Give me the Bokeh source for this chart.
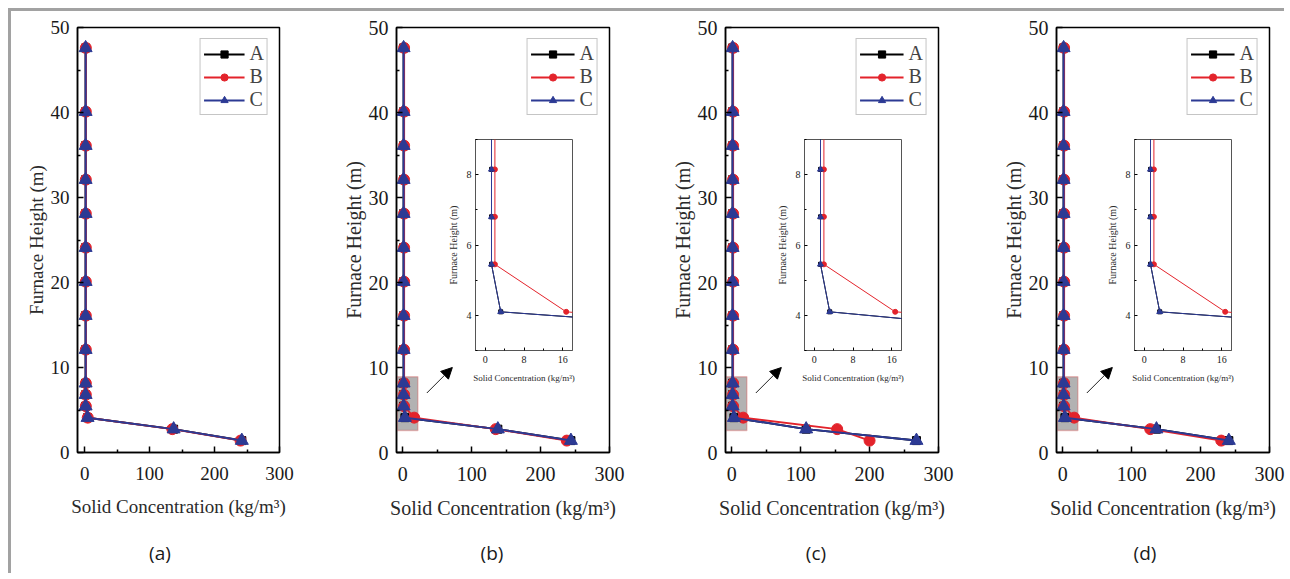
from bokeh.plotting import figure
from bokeh.models import Column, Div, Legend, LegendItem, Arrow, NormalHead, BoxAnnotation, Range1d, FixedTicker
from bokeh.embed import file_html
from bokeh.resources import INLINE

# ---------------- data ----------------
height_m = [47.6, 40.1, 36.1, 32.1, 28.1, 24.1, 20.1, 16.1, 12.1, 8.15, 6.8, 5.45, 4.1, 2.75, 1.4]

a_A = [1.5, 1.5, 1.5, 1.5, 1.5, 1.5, 1.5, 1.5, 1.5, 1.5, 1.5, 1.5, 4.5, 137.0, 242.0]
a_B = [1.8, 1.8, 1.8, 1.8, 1.8, 1.8, 1.8, 1.8, 1.8, 1.8, 1.8, 1.8, 4.8, 135.0, 240.0]
a_C = [1.5, 1.5, 1.5, 1.5, 1.5, 1.5, 1.5, 1.5, 1.5, 1.5, 1.5, 1.5, 4.5, 137.0, 242.0]

b_A = [1.3, 1.3, 1.3, 1.3, 1.3, 1.3, 1.3, 1.3, 1.3, 1.3, 1.3, 1.3, 3.2, 138.0, 244.0]
b_B = [2.0, 2.0, 2.0, 2.0, 2.0, 2.0, 2.0, 2.0, 2.0, 2.0, 2.0, 2.0, 16.7, 135.0, 238.0]
b_C = [1.3, 1.3, 1.3, 1.3, 1.3, 1.3, 1.3, 1.3, 1.3, 1.3, 1.3, 1.3, 3.2, 138.0, 244.0]

c_A = [1.3, 1.3, 1.3, 1.3, 1.3, 1.3, 1.3, 1.3, 1.3, 1.3, 1.3, 1.3, 3.2, 108.0, 268.0]
c_B = [2.0, 2.0, 2.0, 2.0, 2.0, 2.0, 2.0, 2.0, 2.0, 2.0, 2.0, 2.0, 16.7, 153.0, 200.0]
c_C = [1.3, 1.3, 1.3, 1.3, 1.3, 1.3, 1.3, 1.3, 1.3, 1.3, 1.3, 1.3, 3.2, 108.0, 268.0]

d_A = [1.3, 1.3, 1.3, 1.3, 1.3, 1.3, 1.3, 1.3, 1.3, 1.3, 1.3, 1.3, 3.2, 136.0, 241.0]
d_B = [2.0, 2.0, 2.0, 2.0, 2.0, 2.0, 2.0, 2.0, 2.0, 2.0, 2.0, 2.0, 16.7, 127.0, 230.0]
d_C = [1.3, 1.3, 1.3, 1.3, 1.3, 1.3, 1.3, 1.3, 1.3, 1.3, 1.3, 1.3, 3.2, 136.0, 241.0]

series_names = ["A", "B", "C"]
panel_labels = ["(a)", "(b)", "(c)", "(d)"]

main_x_ticks = [0, 100, 200, 300]
main_y_ticks = [0, 10, 20, 30, 40, 50]
inset_x_ticks = [0, 8, 16]
inset_y_ticks = [4, 6, 8]

# zoomed region (main-plot units) and inset ranges
zoom_x = [-8, 22]
zoom_y = [2.6, 8.9]
inset_x_range = [-2, 18]
inset_y_range = [3, 9]

# ---------------- styling ----------------
SERIF = "Liberation Serif"
COL = {"A": "#000000", "B": "#e3232b", "C": "#2c3a94"}
MARK = {"A": "square", "B": "circle", "C": "triangle"}
MSIZE = {"A": 8, "B": 11, "C": 13}
ISIZE = {"A": 4, "B": 5, "C": 6}

ROOT_X, ROOT_Y = 11, 11   # page coords of root content origin
BL, BR = 80, 16                      # shared left/right borders (column aligns them)
MT, MB = 20, 75                      # main top/bottom borders
IT, IB = 3, 44                       # inset top/bottom borders


def place(p, left_page, top_page, mt):
    p.styles = {"position": "absolute",
                "left": f"{left_page - BL - ROOT_X}px",
                "top": f"{top_page - mt - ROOT_Y}px"}


def style_axes(p, font_px, label_px, tick_in, minor_in, lw):
    for ax in (p.xaxis[0], p.yaxis[0]):
        ax.major_tick_in = tick_in
        ax.major_tick_out = 0
        ax.minor_tick_in = minor_in
        ax.minor_tick_out = 0
        ax.axis_line_width = lw
        ax.major_tick_line_width = lw
        ax.minor_tick_line_width = lw
        ax.major_label_text_font = SERIF
        ax.major_label_text_font_size = f"{font_px}px"
        ax.major_label_text_color = "#1a1a1a"
        ax.axis_label_text_font = SERIF
        ax.axis_label_text_font_size = f"{label_px}px"
        ax.axis_label_text_font_style = "normal"
        ax.axis_label_text_color = "#2a2a2a"
    p.xgrid.visible = False
    p.ygrid.visible = False
    p.outline_line_color = "#000000"
    p.outline_line_width = lw


def main_fig(A, B, C, frame_left, frame_w, x_start, font_px, with_zoom):
    p = figure(width=BL + frame_w + BR, height=MT + 425 + MB,
               x_range=Range1d(x_start, 300), y_range=Range1d(0, 50),
               min_border_left=BL, min_border_right=BR, min_border_top=MT,
               min_border_bottom=MB, output_backend="svg", toolbar_location=None)
    p.border_fill_alpha = 0
    p.background_fill_color = "white"
    style_axes(p, font_px, font_px, 6, 3, 1.5)
    p.xaxis.ticker = FixedTicker(ticks=main_x_ticks, minor_ticks=[50, 150, 250])
    p.yaxis.ticker = FixedTicker(ticks=main_y_ticks, minor_ticks=[5, 15, 25, 35, 45])
    p.xaxis.axis_label = "Solid Concentration (kg/m³)"
    p.yaxis.axis_label = "Furnace Height (m)"
    p.xaxis.major_label_standoff = 14
    p.xaxis.axis_label_standoff = 13
    p.yaxis.major_label_standoff = 8
    p.yaxis.axis_label_standoff = 1

    if with_zoom:
        p.add_layout(BoxAnnotation(left=zoom_x[0], right=zoom_x[1], bottom=zoom_y[0], top=zoom_y[1],
                                   fill_color="#b2b2b2", fill_alpha=1.0,
                                   line_color="#d33c3c", line_width=1.5, level="underlay"))
        p.add_layout(Arrow(end=NormalHead(size=11, fill_color="black", line_color="black"),
                           x_start=35, y_start=7.0, x_end=72, y_end=10.0,
                           line_color="#222222", line_width=1))

    items = []
    for name, xs in zip(series_names, (A, B, C)):
        l = p.line(xs, height_m, line_color=COL[name], line_width=2)
        s = p.scatter(xs, height_m, marker=MARK[name], size=MSIZE[name],
                      fill_color=COL[name], line_color=COL[name])
        items.append(LegendItem(label=name, renderers=[l, s]))
    leg = Legend(items=items, location="top_right", margin=11,
                 glyph_width=44 if font_px == 20 else 41, glyph_height=18, label_height=18,
                 label_width=14, spacing=0, padding=3, label_standoff=5,
                 label_text_font=SERIF, label_text_font_size="20px",
                 border_line_color="#8c8c8c", border_line_width=1,
                 background_fill_alpha=1)
    p.add_layout(leg)
    place(p, frame_left, 27, MT)
    return p


def inset_fig(A, B, C, frame_left):
    p = figure(width=BL + 97 + BR, height=IT + 211 + IB,
               x_range=Range1d(*inset_x_range), y_range=Range1d(*inset_y_range),
               min_border_left=BL, min_border_right=BR, min_border_top=IT,
               min_border_bottom=IB, output_backend="svg", toolbar_location=None)
    p.border_fill_alpha = 0
    p.background_fill_color = "white"
    style_axes(p, 10, 10, 3, 2, 1)
    p.outline_line_color = "#555555"
    p.xaxis.axis_line_color = "#555555"
    p.yaxis.axis_line_color = "#555555"
    p.xaxis.axis_label_text_font_size = "9px"
    p.xaxis.ticker = FixedTicker(ticks=inset_x_ticks, minor_ticks=[4, 12])
    p.yaxis.ticker = FixedTicker(ticks=inset_y_ticks, minor_ticks=[3, 5, 7, 9])
    p.xaxis.axis_label = "Solid Concentration (kg/m³)"
    p.yaxis.axis_label = "Furnace Height (m)"
    p.xaxis.major_label_standoff = 5
    p.xaxis.axis_label_standoff = 7
    p.yaxis.major_label_standoff = 4
    p.yaxis.axis_label_standoff = 5
    for name, xs in zip(series_names, (A, B, C)):
        p.line(xs, height_m, line_color=COL[name], line_width=1)
        p.scatter(xs, height_m, marker=MARK[name], size=ISIZE[name],
                  fill_color=COL[name], line_color=COL[name])
    place(p, frame_left, 139, IT)
    return p


main_lefts = [77, 396, 725, 1056]
main_widths = [202, 213, 213, 213]
main_xstart = [-11, -9, -9, -9]
main_fonts = [19, 20, 20, 20]
inset_lefts = [475, 804, 1134]
label_centers = [155, 487, 811, 1140]

children = []
data = [(a_A, a_B, a_C), (b_A, b_B, b_C), (c_A, c_B, c_C), (d_A, d_B, d_C)]
for i, (A, B, C) in enumerate(data):
    children.append(main_fig(A, B, C, main_lefts[i], main_widths[i], main_xstart[i],
                             main_fonts[i], i > 0))
for i, (A, B, C) in enumerate(data[1:]):
    children.append(inset_fig(A, B, C, inset_lefts[i]))
for lab, cx in zip(panel_labels, label_centers):
    children.append(Div(text=lab, width=60, height=28,
                        styles={"position": "absolute", "left": f"{cx - 30 - ROOT_X}px",
                                "top": f"{554 - 20 - ROOT_Y}px", "text-align": "center",
                                "font-family": "Open Sans", "font-size": "19px",
                                "color": "#1a1a1a", "line-height": "28px"}))

root = Column(children=children, width=1276, height=565, sizing_mode="fixed",
              styles={"position": "relative", "margin-left": "8px", "margin-top": "8px",
                      "border-top": "3px solid #a2a2a2",
                      "border-left": "3px solid #a2a2a2", "background": "white"})

open("out.html", "w").write(file_html(root, INLINE))
